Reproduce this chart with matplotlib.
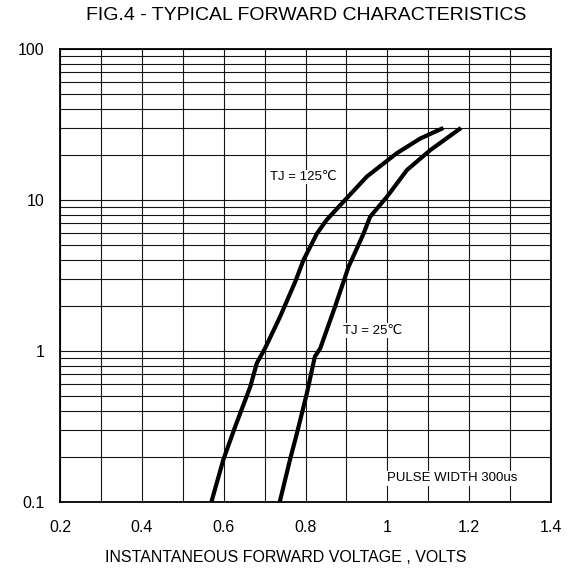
import matplotlib
matplotlib.use("Agg")
import matplotlib.pyplot as plt
from matplotlib.ticker import FixedLocator, NullFormatter

plt.rcParams['font.family'] = ['Liberation Sans', 'DejaVu Sans']

# Data
v_125 = [0.570, 0.599, 0.628, 0.665, 0.681, 0.701, 0.738, 0.775, 0.795, 0.828,
         0.852, 0.901, 0.950, 1.023, 1.080, 1.137]
i_125 = [0.100, 0.19, 0.315, 0.58, 0.83, 1.04, 1.69, 2.88, 4.0, 6.0,
         7.4, 10.3, 14.3, 20.4, 25.5, 30.0]
v_25 = [0.737, 0.762, 0.779, 0.803, 0.823, 0.836, 0.872, 0.893, 0.905, 0.942,
        0.958, 0.999, 1.048, 1.105, 1.180]
i_25 = [0.100, 0.19, 0.285, 0.52, 0.92, 1.04, 1.96, 2.88, 3.6, 6.0,
        7.75, 10.5, 15.8, 21.4, 30.0]

x_ticks = [0.2, 0.4, 0.6, 0.8, 1.0, 1.2, 1.4]
x_tick_labels = ["0.2", "0.4", "0.6", "0.8", "1", "1.2", "1.4"]
y_ticks = [0.1, 1, 10, 100]
y_tick_labels = ["0.1", "1", "10", "100"]

title = "FIG.4 - TYPICAL FORWARD CHARACTERISTICS"
xlabel = "INSTANTANEOUS FORWARD VOLTAGE , VOLTS"

fig = plt.figure(figsize=(5.71, 5.71), dpi=100)
ax = fig.add_axes([60/571, (571-502)/571, 491/571, 453/571])

ax.set_yscale('log')
ax.set_xlim(0.2, 1.4)
ax.set_ylim(0.1, 100)

# grid
xgrid = [0.2 + 0.1*k for k in range(13)]
ygrid = []
for d in [0.1, 1, 10]:
    for m in range(1, 10):
        ygrid.append(d*m)
ygrid.append(100)
for xv in xgrid:
    ax.axvline(xv, color='#151515', lw=0.8, zorder=1)
for yv in ygrid:
    ax.axhline(yv, color='#151515', lw=0.8, zorder=1)

ax.plot(v_125, i_125, color='black', lw=3.0, solid_capstyle='butt', zorder=3)
ax.plot(v_25, i_25, color='black', lw=3.0, solid_capstyle='butt', zorder=3)

ax.xaxis.set_major_locator(FixedLocator(x_ticks))
ax.set_xticklabels(x_tick_labels)
ax.yaxis.set_major_locator(FixedLocator(y_ticks))
ax.set_yticklabels(y_tick_labels)
ax.yaxis.set_minor_locator(FixedLocator([]))
ax.yaxis.set_minor_formatter(NullFormatter())
ax.tick_params(axis='both', length=0, labelsize=11.5)
ax.tick_params(axis='x', pad=13)
ax.tick_params(axis='y', pad=11)

for s in ax.spines.values():
    s.set_linewidth(1.3)
    s.set_color('black')
    s.set_zorder(5)

bbox = dict(facecolor='white', edgecolor='none', pad=1.0)
ax.text(0.795, 14.2, "TJ = 125\u2103", fontsize=9.5, ha='center', va='center', bbox=bbox, zorder=2)
ax.text(0.965, 1.36, "TJ = 25\u2103", fontsize=9.5, ha='center', va='center', bbox=bbox, zorder=2)
ax.text(1.159, 0.144, "PULSE WIDTH 300us", fontsize=9.5, ha='center', va='center', bbox=bbox, zorder=2)

fig.text(306/571, 1 - 15/571, title, fontsize=14, ha='center', va='center')
fig.text(286/571, 1 - 558/571, xlabel, fontsize=11.5, ha='center', va='center')

fig.savefig("out.png", dpi=100)
